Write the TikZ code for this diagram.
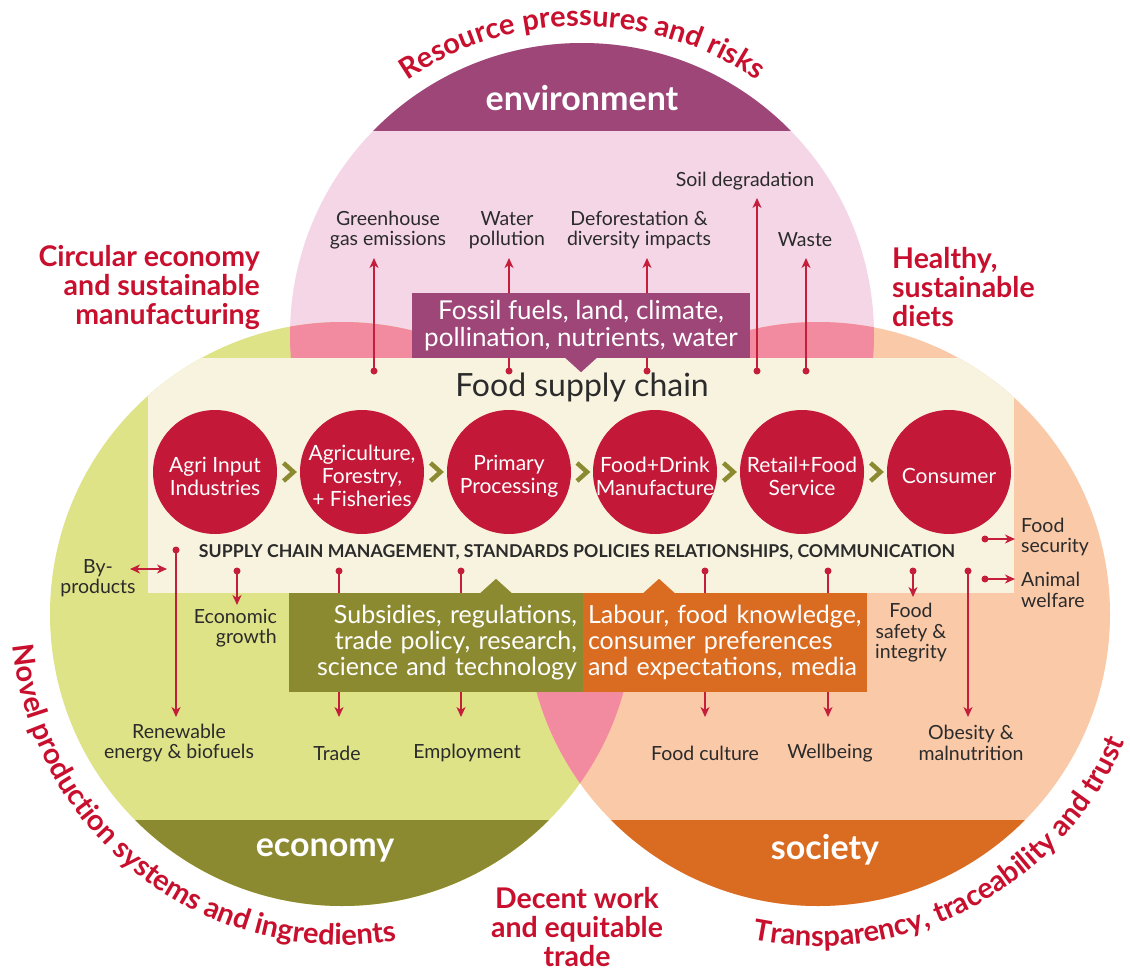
\documentclass[tikz,border=0pt]{standalone}
\usepackage{fontspec}
\setmainfont{Lato}
\usetikzlibrary{decorations.text,arrows.meta,calc}
\definecolor{envlight}{HTML}{F4D6E6}
\definecolor{ecolight}{HTML}{DFE387}
\definecolor{soclight}{HTML}{FAC9A8}
\definecolor{overlap}{HTML}{F28BA0}
\definecolor{cream}{HTML}{F8F3DE}
\definecolor{envdark}{HTML}{9D4677}
\definecolor{ecodark}{HTML}{8C8A31}
\definecolor{socdark}{HTML}{DA6C22}
\definecolor{stage}{HTML}{C31838}
\definecolor{flowred}{HTML}{C41E3A}
\definecolor{theme}{HTML}{C8102E}
\definecolor{ink}{HTML}{2B2B2B}
\newcommand\fsz[2]{\fontsize{#1}{#2}\selectfont}

\begin{document}
\begin{tikzpicture}[x=1pt,y=1pt,
  stagenode/.style={circle, fill=stage, minimum size=124pt, inner sep=0pt},
  stagetext/.style={text=white, align=center, inner sep=0pt, font=\fsz{21}{23}},
  chev/.style={draw=ecodark, line width=4.5pt, line cap=butt, line join=miter},
  lbl/.style={text=ink, align=center, inner sep=0pt, font=\fsz{19.5}{20.5}},
  flow/.style={draw=flowred, line width=1.5pt, -{Stealth[length=10pt,width=9pt,inset=3pt]}},
  dot/.style={fill=flowred},
  themetext/.style={text=theme, inner sep=0pt, font=\fsz{28.5}{29}\bfseries},
  bandlabel/.style={text=white, inner sep=0pt, font=\fsz{34}{34}\bfseries},
  infobox/.style={inner sep=0pt, text=white, font=\fsz{25}{26}},
  curved/.style={decorate, decoration={text along path, text align=center,
      text={|\fsz{29}{29}\bfseries\color{theme}|#1}}}
]
\useasboundingbox (0,0) rectangle (1130,-971);
\fill[white] (0,0) rectangle (1130,-971);

% the three spheres
\coordinate (T) at (582,-335);
\coordinate (L) at (342,-614);
\coordinate (R) at (818,-614);
\fill[envlight] (T) circle (292);
\fill[ecolight] (L) circle (292);
\fill[soclight] (R) circle (292);
\begin{scope}
  \clip (T) circle (292);
  \fill[overlap] (L) circle (292);
  \fill[overlap] (R) circle (292);
\end{scope}
\begin{scope}
  \clip (L) circle (292);
  \fill[overlap] (R) circle (292);
\end{scope}

% title bands
\begin{scope}
  \clip (T) circle (292);
  \fill[envdark] (250,-131) rectangle (920,0);
\end{scope}
\begin{scope}
  \clip (L) circle (292);
  \fill[ecodark] (0,-820) rectangle (700,-971);
\end{scope}
\begin{scope}
  \clip (R) circle (292);
  \fill[socdark] (450,-820) rectangle (1130,-971);
\end{scope}
\node[bandlabel] (env) at (582,-98) {environment};
\node[bandlabel] (eco) at (325,-850) {economy};
\node[bandlabel] (soc) at (825,-850) {society};

% supply chain panel
\begin{scope}
  \clip (T) circle (292) (L) circle (292) (R) circle (292);
  \fill[cream] (148,-358) rectangle (1014,-593);
\end{scope}
\node[text=ink, inner sep=0pt, font=\fsz{32}{32}] (fsc) at (582,-387) {Food supply chain};

% stages
\foreach \x/\txt [count=\i] in {215/{Agri Input\\Industries}, 362/{Agriculture,\\Forestry,\\+ Fisheries},
    509/{Primary\\Processing}, 655/{Food+Drink\\Manufacture}, 802/{Retail+Food\\Service}, 949/{Consumer}}{
  \node[stagenode] (c\i) at (\x,-472) {};
  \node[stagetext] (c\i t) at ([yshift=-4pt]c\i.center) {\txt};
}
\foreach \a/\b [count=\i] in {c1/c2,c2/c3,c3/c4,c4/c5,c5/c6}{
  \coordinate (m\i) at ($(\a)!0.5!(\b)$);
  \draw[chev] ([shift={(-5,9)}]m\i) -- ([shift={(5,0)}]m\i) -- ([shift={(-5,-9)}]m\i);
}
\node[text=ink, inner sep=0pt, font=\fsz{17.7}{18}\bfseries] (scm) at (577,-552)
  {SUPPLY CHAIN MANAGEMENT, STANDARDS POLICIES RELATIONSHIPS, COMMUNICATION};

% pressures on the environment
\foreach \x/\yt [count=\i] in {374/258, 509/258, 647/258, 757/198, 806/258}{
  \coordinate (us\i) at (\x,-371);
  \coordinate (ue\i) at (\x,-\yt);
  \draw[flow] (us\i) -- (ue\i);
  \fill[dot] (us\i) circle (3.5);
}
\node[lbl] (ghg) at (388,-230) {Greenhouse\\gas emissions};
\node[lbl] (wat) at (507,-230) {Water\\pollution};
\node[lbl] (def) at (639,-230) {Deforestation \&\\diversity impacts};
\node[lbl] (soil) at (745,-181) {Soil degradation};
\node[lbl] (waste) at (805,-240) {Waste};

% outcomes for economy and society
\foreach \x/\ys/\yt [count=\i] in {176/550/717, 237/571/605, 339/571/717, 461/571/717,
                                   705/571/717, 828/571/717, 913/571/597, 968/571/717}{
  \coordinate (ds\i) at (\x,-\ys);
  \coordinate (de\i) at (\x,-\yt);
  \draw[flow] (ds\i) -- (de\i);
  \fill[dot] (ds\i) circle (3.5);
}
\foreach \y [count=\i] in {539, 579}{
  \coordinate (hs\i) at (985,-\y);
  \coordinate (he\i) at (1015,-\y);
  \draw[flow] (hs\i) -- (he\i);
  \fill[dot] (hs\i) circle (3.5);
}
\coordinate (bpa) at (130,-569);
\coordinate (bpb) at (167,-569);
\draw[flow, {Stealth[length=10pt,width=9pt,inset=3pt]}-{Stealth[length=10pt,width=9pt,inset=3pt]}] (bpa) -- (bpb);

\node[lbl] (byp) at (98,-578) {By-\\products};
\node[lbl, align=right, anchor=east] (growth) at (277,-628) {Economic\\growth};
\node[lbl] (renew) at (179,-743) {Renewable\\energy \& biofuels};
\node[lbl] (trade) at (337,-753) {Trade};
\node[lbl] (employ) at (467,-753) {Employment};
\node[lbl] (culture) at (705,-753) {Food culture};
\node[lbl] (well) at (830,-753) {Wellbeing};
\node[lbl] (safety) at (911,-633) {Food\\safety \&\\integrity};
\node[lbl] (obesity) at (971,-743) {Obesity \&\\malnutrition};
\node[lbl, align=left, anchor=west] (secur) at (1021,-537) {Food\\security};
\node[lbl, align=left, anchor=west] (animal) at (1021,-590) {Animal\\welfare};

% drivers
\node[infobox, font=\fsz{26}{27}, fill=envdark, minimum width=338pt, minimum height=65pt, align=center] (fossil)
  at (581,-325.5) {Fossil fuels, land, climate,\\pollination, nutrients, water};
\fill[envdark] ([xshift=-16pt,yshift=0.5pt]fossil.south) -- ([xshift=16pt,yshift=0.5pt]fossil.south)
  -- ([yshift=-14pt]fossil.south) -- cycle;
\node[infobox, fill=ecodark, minimum width=294pt, minimum height=99pt, text width=282pt,
      inner xsep=6pt, align=right] (policy) at (436,-642.5)
  {Subsidies, regulations,\\trade policy, research,\\science and technology};
\fill[ecodark] ([xshift=44pt,yshift=-0.5pt]policy.north) -- ([xshift=76pt,yshift=-0.5pt]policy.north)
  -- ([xshift=60pt,yshift=14pt]policy.north) -- cycle;
\node[infobox, fill=socdark, minimum width=284pt, minimum height=99pt, text width=280pt,
      inner xsep=2pt, align=left] (people) at (725,-642.5)
  {\hspace*{3pt}Labour, food knowledge,\\\hspace*{3pt}consumer preferences\\\hspace*{3pt}and expectations, media};
\fill[socdark] ([xshift=-82pt,yshift=-0.5pt]people.north) -- ([xshift=-50pt,yshift=-0.5pt]people.north)
  -- ([xshift=-66pt,yshift=14pt]people.north) -- cycle;

% themes
\node[themetext, align=right, anchor=east] (circ) at (260,-287) {Circular economy\\and sustainable\\manufacturing};
\node[themetext, align=left, anchor=west] (healthy) at (892,-287) {Healthy,\\sustainable\\diets};
\node[themetext, align=center] (decent) at (577,-927) {Decent work\\and equitable\\trade};
\path[curved={Resource pressures and risks}] (T) ++(130:309) arc[start angle=130, end angle=50, radius=309];
\path[curved={Novel production systems and ingredients}] (L) ++(180:331) arc[start angle=180, end angle=285, radius=331];
\path[curved={Transparency, traceability and trust}] (R) ++(253:332) arc[start angle=253, end angle=343, radius=332];
\end{tikzpicture}
\end{document}
